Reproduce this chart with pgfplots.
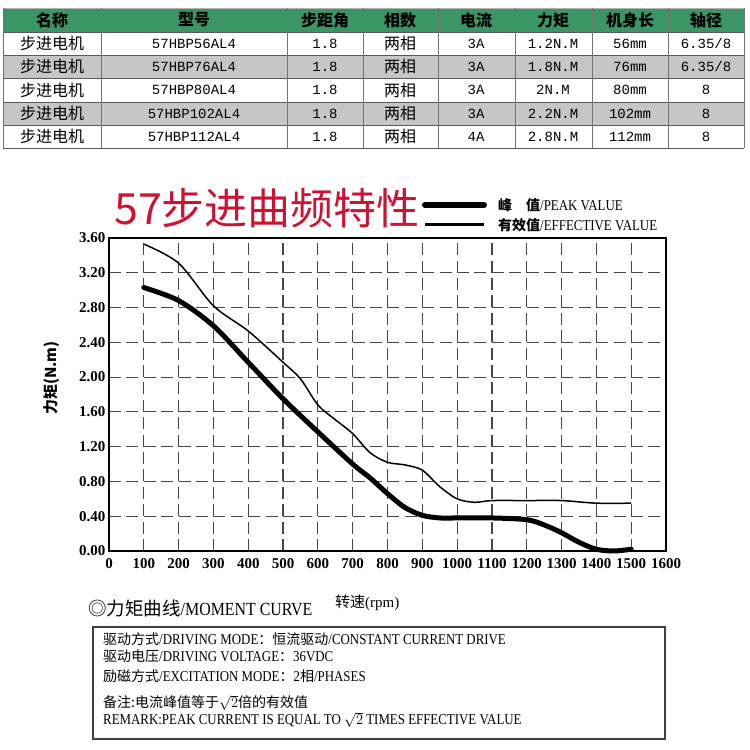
\documentclass[border=0pt]{standalone}
\usepackage{pgfplots}
\pgfplotsset{compat=1.18}
\usepackage{fontspec}
\setmainfont{Liberation Serif}
\newfontfamily\cjk{Noto Sans CJK SC}
\newfontfamily\nar[FakeStretch=0.86]{Liberation Serif}
\newfontfamily\mono{Liberation Mono}
\newcommand\fs[1]{\fontsize{#1bp}{#1bp}\selectfont}
\definecolor{hdr}{RGB}{58,150,100}
\definecolor{rowgray}{RGB}{198,198,198}
\definecolor{titred}{RGB}{204,20,50}
\definecolor{gridc}{RGB}{70,70,70}

% one body row of the spec table: y, model, current, torque, length, shaft
\newcommand\trow[6]{%
  \node[font=\cjk\fs{16}] at (52,#1) {步进电机};
  \node[font=\mono\fs{14}] at (194,#1) {#2};
  \node[font=\mono\fs{14}] at (325,#1) {1.8};
  \node[font=\cjk\fs{16}] at (400,#1) {两相};
  \node[font=\mono\fs{14}] at (476,#1) {#3};
  \node[font=\mono\fs{14}] at (553,#1) {#4};
  \node[font=\mono\fs{14}] at (630,#1) {#5};
  \node[font=\mono\fs{14}] at (706,#1) {#6};
}

\begin{document}
\begin{tikzpicture}[x=1bp,y=1bp]
\path[use as bounding box] (0,0) rectangle (750,750);

% ---- table ----
\fill[hdr] (3,742) rectangle (744,718);
\fill[rowgray] (3,695) rectangle (744,672);
\fill[rowgray] (3,648) rectangle (744,625);
\foreach \y in {718,695,672,648,625,602}
  \draw[black!65, line width=0.8bp] (3,\y) -- (744,\y);
\draw[black!30, line width=0.8bp] (3,742) -- (744,742);
\foreach \x in {3,101,287,363,438,515,592,668,744}
  \draw[black!55, line width=0.8bp] (\x,742) -- (\x,602);
\foreach \x/\t in {52/名称,194/型号,325/步距角,400/相数,476/电流,553/力矩,630/机身长,706/轴径}
  \node[font=\cjk\bfseries\fs{16}] at (\x,730) {\t};
\trow{706.5}{57HBP56AL4}{3A}{1.2N.M}{56mm}{6.35/8}
\trow{683.5}{57HBP76AL4}{3A}{1.8N.M}{76mm}{6.35/8}
\trow{660}{57HBP80AL4}{3A}{2N.M}{80mm}{8}
\trow{636.5}{57HBP102AL4}{3A}{2.2N.M}{102mm}{8}
\trow{613.5}{57HBP112AL4}{4A}{2.8N.M}{112mm}{8}

% ---- title and key ----
\node[anchor=west, font=\cjk\fs{43}, text=titred, inner sep=0] at (114,542) {57步进曲频特性};
\draw[line width=6bp, line cap=round] (425,545) -- (484,545);
\draw[line width=3bp] (425,525) -- (484,525);
\node[anchor=west, font=\nar\fs{15}, inner sep=0] at (498,545) {{\cjk\bfseries\fs{14}峰\hspace{1em}值}/PEAK VALUE};
\node[anchor=west, font=\nar\fs{15}, inner sep=0] at (498,525) {{\cjk\bfseries\fs{14}有效值}/EFFECTIVE VALUE};

% ---- chart ----
\begin{axis}[
    at={(109bp,199bp)}, anchor=south west,
    scale only axis, width=557bp, height=313bp,
    xmin=0, xmax=1600, ymin=0, ymax=3.6,
    xtick={0,100,...,1600},
    ytick={0,0.4,0.8,1.2,1.6,2.0,2.4,2.8,3.2,3.6},
    xmajorgrids=true, ymajorgrids=true,
    x grid style={draw=gridc, line width=1.2bp, dash pattern=on 12bp off 5.4bp},
    y grid style={draw=gridc, line width=1.2bp, dash pattern=on 12bp off 5.4bp},
    axis line style={line width=1.8bp},
    tick style={draw=none},
    /pgf/number format/assume math mode=true,
    ticklabel style={font=\bfseries\fs{15}},
    xticklabel style={/pgf/number format/1000 sep={}, yshift=-4bp},
    yticklabel style={/pgf/number format/.cd, fixed, fixed zerofill, precision=2},
    clip=false,
  ]
  % thick curve
  \addplot[line width=5bp, smooth, line cap=round] coordinates {
    (100,3.03)(200,2.88)(300,2.59)(400,2.17)(500,1.75)(600,1.37)(700,1.00)
    (750,0.84)(800,0.66)(850,0.50)(900,0.41)(950,0.38)(1000,0.38)(1100,0.38)
    (1200,0.36)(1250,0.30)(1300,0.21)(1350,0.10)(1400,0.02)(1450,0.0)(1500,0.02)
  };
  % thin curve
  \addplot[line width=1.5bp, smooth] coordinates {
    (100,3.53)(200,3.31)(300,2.82)(400,2.53)(500,2.17)(550,1.98)(600,1.68)
    (650,1.51)(700,1.35)(750,1.13)(800,1.02)(850,0.99)(900,0.93)(950,0.74)
    (1000,0.60)(1050,0.56)(1100,0.58)(1200,0.58)(1300,0.58)(1400,0.55)(1500,0.55)
  };
\end{axis}

\node[rotate=90, font=\cjk\bfseries\fs{15}] at (52,372) {力矩(N.m)};
\node[anchor=west, font=\fs{15}, inner sep=0] at (335,147) {{\cjk 转速}(rpm)};
\node[anchor=west, font=\nar\fs{18.5}, inner sep=0] at (88,142) {{\cjk ◎力矩曲线}/MOMENT CURVE};

% ---- notes box ----
\draw[black!75, line width=1.2bp] (93,123) rectangle (665,11);
\begin{scope}[every node/.style={anchor=base west, inner sep=0, text height=11bp, text depth=2bp, font=\nar\fs{15}}]
  \node at (103,105) {{\cjk\fs{14}驱动方式}/DRIVING MODE{\cjk\fs{14}：恒流驱动}/CONSTANT CURRENT DRIVE};
  \node at (103,88) {{\cjk\fs{14}驱动电压}/DRIVING VOLTAGE{\cjk\fs{14}：}36VDC};
  \node at (103,68) {{\cjk\fs{14}励磁方式}/EXCITATION MODE{\cjk\fs{14}：}2{\cjk\fs{14}相}/PHASES};
  \node at (103,42) {{\cjk\fs{14}备注:电流峰值等于}$\sqrt{2}${\cjk\fs{14}倍的有效值}};
  \node at (103,25) {REMARK:PEAK CURRENT IS EQUAL TO $\sqrt{2}$ TIMES EFFECTIVE VALUE};
\end{scope}
\end{tikzpicture}
\end{document}
